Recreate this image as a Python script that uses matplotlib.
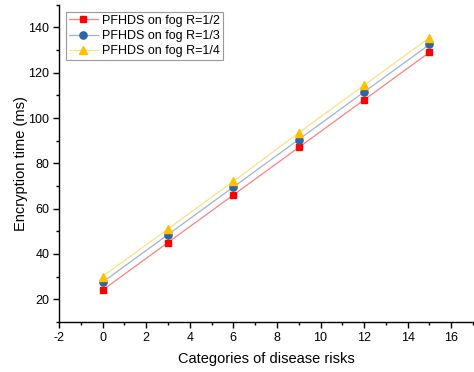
import matplotlib
matplotlib.use("Agg")
import matplotlib.pyplot as plt
from matplotlib.ticker import MultipleLocator

plt.rcParams["font.family"] = ["Liberation Sans", "DejaVu Sans"]
plt.rcParams["axes.unicode_minus"] = False

# ---- data
categories = [0, 3, 6, 9, 12, 15]
time_r12 = [24, 45, 66, 87, 108, 129]
time_r13 = [27.5, 48.5, 69.5, 90.5, 111.5, 132.5]
time_r14 = [30, 51, 72, 93.5, 114.5, 135.5]
labels = ["PFHDS on fog R=1/2", "PFHDS on fog R=1/3", "PFHDS on fog R=1/4"]

fig = plt.figure(figsize=(4.74, 3.72), dpi=100)
ax = fig.add_axes([0.1245, 0.135, 0.8735, 0.852])

ax.plot(categories, time_r12, color="#FF8080", lw=0.9, marker="s", ms=4.6,
        mfc="#FF0000", mec="#FF0000", label=labels[0])
ax.plot(categories, time_r13, color="#9DB4D0", lw=0.9, marker="o", ms=5.2,
        mfc="#2F65A0", mec="#2F65A0", label=labels[1])
ax.plot(categories, time_r14, color="#FFE080", lw=0.9, marker="^", ms=5.6,
        mfc="#FFC000", mec="#FFC000", label=labels[2])

ax.set_xlim(-2, 17)
ax.set_ylim(10, 150)
ax.xaxis.set_major_locator(MultipleLocator(2))
ax.xaxis.set_minor_locator(MultipleLocator(1))
ax.yaxis.set_minor_locator(MultipleLocator(10))
ax.set_yticks(range(20, 141, 20))
for s in ("top", "right"):
    ax.spines[s].set_visible(False)
for s in ("left", "bottom"):
    ax.spines[s].set_linewidth(1.0)
ax.tick_params(which="major", direction="out", length=4, width=1, labelsize=9, pad=3)
ax.tick_params(which="minor", direction="out", length=2.5, width=1)

ax.set_xlabel("Categories of disease risks", fontsize=10.5, labelpad=6)
ax.set_ylabel("Encryption time (ms)", fontsize=10.5, labelpad=0.5)

leg = ax.legend(loc="upper left", bbox_to_anchor=(0.0, 1.0), fontsize=9,
                frameon=True, fancybox=False, borderpad=0.25, labelspacing=0.25,
                handlelength=2.3, handletextpad=0.3, borderaxespad=0.55)
leg.get_frame().set_edgecolor("#808080")
leg.get_frame().set_linewidth(0.8)

fig.savefig("out.png", dpi=100)
